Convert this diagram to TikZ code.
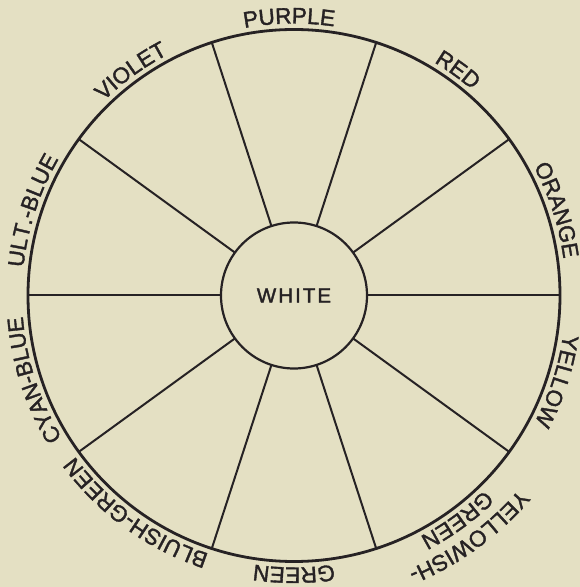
\documentclass[tikz,border=0pt]{standalone}
\usepackage{fontspec}
\setmainfont{Liberation Sans}
\newfontfamily\lblfont[FakeBold=1.6]{Liberation Sans}
\newfontfamily\whitefont[LetterSpace=10,FakeBold=1.8]{Liberation Sans}
\usetikzlibrary{decorations.text}
\definecolor{paper}{RGB}{228,224,195}
\definecolor{ink}{RGB}{38,34,36}
\tikzset{
  rim/.style={draw=ink, line width=2.8pt, circle, minimum size=532pt, inner sep=0pt, outer sep=0pt},
  hub/.style={draw=ink, line width=2.2pt, circle, minimum size=146pt, inner sep=0pt, outer sep=0pt},
  spoke/.style={draw=ink, line width=2pt},
  lbl/.style={decorate, decoration={text along path, text align=center,
     text={|\fontsize{22.5}{22.5}\lblfont\color{ink}|#1}}},
}
\begin{document}
\begin{tikzpicture}[x=1pt,y=1pt]
\fill[paper] (0,0) rectangle (580,587);
\useasboundingbox (0,0) rectangle (580,587);
\coordinate (C) at (294,291.5);
\node[rim] (O) at (C) {};
\node[hub] (W) at (C) {\fontsize{20.5}{21}\whitefont\color{ink}WHITE};
\foreach \a in {0,36,...,324} \draw[spoke] (W.\a) -- (O.\a);
\path[lbl=PURPLE] ([shift={(121:272)}]C) arc[start angle=121, end angle=61, radius=272];
\path[lbl=RED] ([shift={(84:272)}]C) arc[start angle=84, end angle=24, radius=272];
\path[lbl=ORANGE] ([shift={(48:272)}]C) arc[start angle=48, end angle=-12, radius=272];
\path[lbl=YELLOW] ([shift={(12:272)}]C) arc[start angle=12, end angle=-48, radius=272];
\path[lbl=YELLOWISH-] ([shift={(-24:297)}]C) arc[start angle=-24, end angle=-84, radius=297];
\path[lbl=GREEN] ([shift={(-24:272)}]C) arc[start angle=-24, end angle=-84, radius=272];
\path[lbl=GREEN] ([shift={(-60:272)}]C) arc[start angle=-60, end angle=-120, radius=272];
\path[lbl=BLUISH-GREEN] ([shift={(-96:272)}]C) arc[start angle=-96, end angle=-156, radius=272];
\path[lbl=CYAN-BLUE] ([shift={(-132:272)}]C) arc[start angle=-132, end angle=-192, radius=272];
\path[lbl=ULT.-BLUE] ([shift={(192:272)}]C) arc[start angle=192, end angle=132, radius=272];
\path[lbl=VIOLET] ([shift={(156:272)}]C) arc[start angle=156, end angle=96, radius=272];
\end{tikzpicture}
\end{document}
